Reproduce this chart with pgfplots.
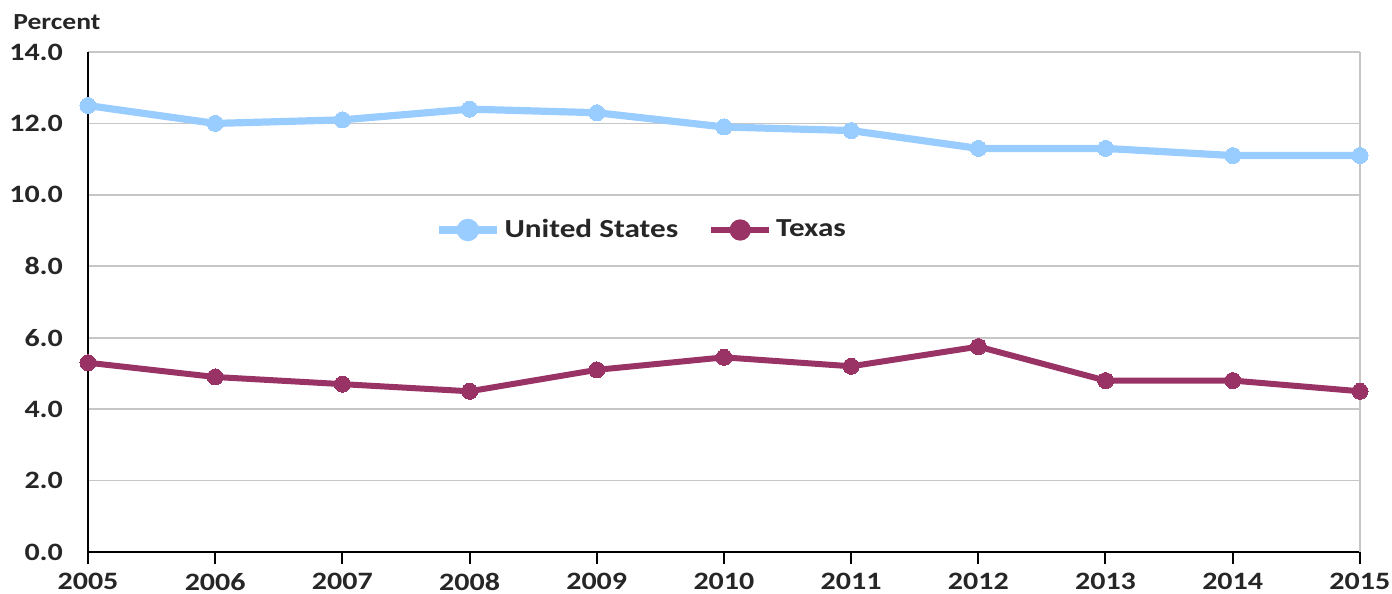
\documentclass[border=0pt]{standalone}
\usepackage{pgfplots}
\pgfplotsset{compat=1.18}
\usepackage{fontspec}
\setmainfont[FakeStretch=1.2]{Carlito}
\definecolor{usblue}{RGB}{153,204,255}
\definecolor{txred}{RGB}{153,51,102}
\begin{document}
\begin{tikzpicture}[x=1pt,y=1pt]
\begin{axis}[
  name=ax,
  scale only axis,
  width=636pt, height=250pt,
  xmin=2005, xmax=2015, ymin=0, ymax=14,
  xtick={2005,...,2015},
  xticklabels={2005,2006,2007,2008,2009,2010,2011,2012,2013,2014,2015},
  ytick={0,2,4,6,8,10,12,14},
  yticklabels={0.0,2.0,4.0,6.0,8.0,10.0,12.0,14.0},
  tick label style={font=\fontsize{12.5}{15}\selectfont\bfseries, text=black!85},
  axis x line*=bottom,
  axis y line*=left,
  axis line style={black, line width=1pt},
  ymajorgrids, grid style={gray!45, line width=0.8pt},
  x tick style={black, line width=1pt},
  xtick align=outside, major tick length=6pt,
  y tick style={draw=none},
  xticklabel style={yshift=-1pt},
  yticklabel style={xshift=-9pt},
  clip=false,
  legend columns=2,
  legend style={at={(rel axis cs:0.436,0.644)}, anchor=center, draw=none, fill=none,
    font=\fontsize{13}{16}\selectfont\bfseries, text=black!85,
    /tikz/every even column/.append style={column sep=13pt}},
  legend image code/.code={
    \draw[#1, mark=none] (0cm,0cm) -- (1.02cm,0cm);
    \fill[#1] (0.51cm,0cm) circle (3.8pt);
  },
]
\draw[gray!45, line width=0.8pt] (axis cs:2015,0) -- (axis cs:2015,14);
\addplot[usblue, line width=3.6pt, mark=*, mark size=4pt, mark options={solid, line width=0pt}] coordinates {
(2005,12.5) (2006,12.0) (2007,12.1) (2008,12.4) (2009,12.3) (2010,11.9) (2011,11.8) (2012,11.3) (2013,11.3) (2014,11.1) (2015,11.1)};
\addlegendentry{United States}
\addplot[txred, line width=3pt, mark=*, mark size=4pt, mark options={solid, line width=0pt}] coordinates {
(2005,5.3) (2006,4.9) (2007,4.7) (2008,4.5) (2009,5.1) (2010,5.45) (2011,5.2) (2012,5.75) (2013,4.8) (2014,4.8) (2015,4.5)};
\addlegendentry{Texas}
\node[anchor=west, inner sep=0pt, font=\fontsize{11.5}{14}\selectfont\bfseries, text=black!85] at (rel axis cs:-0.059,1.06) {Percent};
\end{axis}
\pgfresetboundingbox
\path[use as bounding box] ([xshift=-44pt,yshift=-21pt]ax.south west) rectangle ([xshift=16pt,yshift=26pt]ax.north east);
\end{tikzpicture}
\end{document}
